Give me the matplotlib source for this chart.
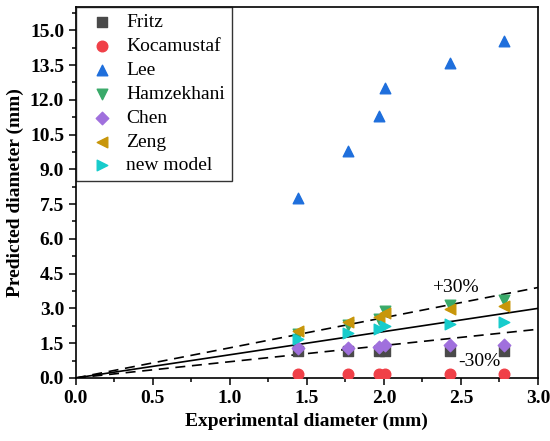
import numpy as np
import matplotlib.pyplot as plt
from matplotlib.ticker import MultipleLocator

plt.rcParams['font.family'] = ['Liberation Serif', 'DejaVu Serif']

# экспериментальные диаметры (мм)
exp_d = [1.44, 1.77, 1.97, 2.01, 2.43, 2.78]

fritz = [1.15, 1.15, 1.15, 1.15, 1.15, 1.15]
kocamustaf = [0.19, 0.19, 0.19, 0.19, 0.19, 0.19]
lee = [7.75, 9.77, 11.28, 12.51, 13.59, 14.54]
hamzekhani = [1.9, 2.3, 2.55, 2.88, 3.15, 3.36]
chen = [1.27, 1.29, 1.35, 1.41, 1.41, 1.44]
zeng = [2.04, 2.40, 2.63, 2.80, 2.98, 3.12]
new_model = [1.68, 1.94, 2.09, 2.23, 2.34, 2.42]

fig = plt.figure(figsize=(5.5, 4.41), dpi=100)
ax = fig.add_axes([0.138, 0.143, 0.840, 0.841])

ms = 58
ax.scatter(exp_d, fritz, marker='s', s=ms * 0.8, color='#4a4a4a', label='Fritz', zorder=3)
ax.scatter(exp_d, kocamustaf, marker='o', s=ms, color='#f04048', label='Kocamustaf', zorder=3)
ax.scatter(exp_d, lee, marker='^', s=ms, color='#1f6fdc', label='Lee', zorder=3)
ax.scatter(exp_d, hamzekhani, marker='v', s=ms, color='#3aaa6a', label='Hamzekhani', zorder=3)
ax.scatter(exp_d, chen, marker='D', s=ms * 0.7, color='#a070dd', label='Chen', zorder=3)
ax.scatter(exp_d, zeng, marker='<', s=ms, color='#c8960a', label='Zeng', zorder=3)
ax.scatter(exp_d, new_model, marker='>', s=ms, color='#17cccc', label='new model', zorder=3)

x = np.array([0, 3.0])
ax.plot(x, x, color='black', lw=1.2, zorder=2)
ax.plot(x, 1.3 * x, color='black', lw=1.2, ls=(0, (6, 4)), zorder=2)
ax.plot(x, 0.7 * x, color='black', lw=1.2, ls=(0, (6, 4)), zorder=2)

ax.text(2.31, 3.7, '+30%', fontsize=14)
ax.text(2.48, 0.5, '-30%', fontsize=14)

ax.set_xlim(0, 3.0)
ax.set_ylim(0, 16)
ax.xaxis.set_major_locator(MultipleLocator(0.5))
ax.xaxis.set_minor_locator(MultipleLocator(0.25))
ax.yaxis.set_major_locator(MultipleLocator(1.5))
ax.yaxis.set_minor_locator(MultipleLocator(0.75))
ax.xaxis.set_major_formatter('{x:.1f}')
ax.yaxis.set_major_formatter('{x:.1f}')
ax.tick_params(which='major', length=5, width=1.1, labelsize=14)
ax.tick_params(which='minor', length=3, width=1.1)
for lbl in ax.get_xticklabels() + ax.get_yticklabels():
    lbl.set_fontweight('bold')
for sp in ax.spines.values():
    sp.set_linewidth(1.2)

ax.set_xlabel('Experimental diameter (mm)', fontsize=14, fontweight='bold')
ax.set_ylabel('Predicted diameter (mm)', fontsize=14, fontweight='bold')

leg = ax.legend(loc='upper left', fontsize=14, frameon=True, fancybox=False,
                edgecolor='black', borderaxespad=0, handletextpad=0.25,
                labelspacing=0.32, borderpad=0.35, scatterpoints=1)
leg.get_frame().set_linewidth(1.0)

plt.savefig('out.png', dpi=100)
